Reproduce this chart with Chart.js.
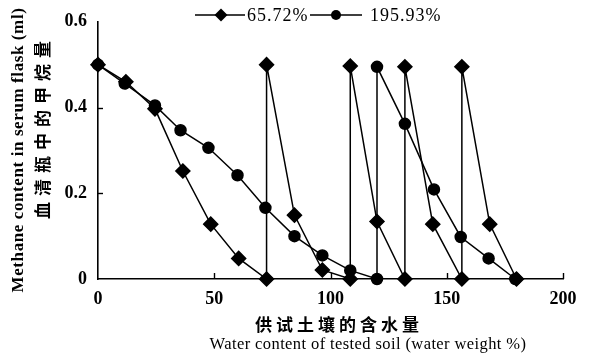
<!DOCTYPE html>
<html>
<head>
<meta charset="utf-8">
<script src="https://cdn.jsdelivr.net/npm/chart.js@4/dist/chart.umd.min.js"></script>
<style>
    html, body { margin: 0; padding: 0; background: #ffffff; }
    #wrap { width: 590px; height: 361px; position: relative; }
</style>
</head>
<body>
<div id="wrap"><canvas id="chart"></canvas></div>
<script>
    'use strict';

    // series 65.72% (diamonds)
    var lowX = [0, 12, 24.5, 36.5, 48.5, 60.5, 72.5, 72.5, 84.5, 96.5, 108.5, 108.5, 120, 132, 132, 144, 156.5, 156.5, 168.5, 180];
    var lowY = [0.5, 0.46, 0.397, 0.252, 0.128, 0.048, 0, 0.5, 0.149, 0.021, 0, 0.497, 0.134, 0, 0.495, 0.128, 0, 0.495, 0.128, 0];

    // series 195.93% (circles)
    var highX = [0, 11.5, 24.5, 35.5, 47.5, 60, 72, 84.5, 96.5, 108.5, 120, 120, 132, 144.5, 156, 168, 179.5];
    var highY = [0.5, 0.456, 0.405, 0.347, 0.306, 0.242, 0.166, 0.1, 0.055, 0.02, 0, 0.495, 0.362, 0.209, 0.098, 0.048, 0];

    var seriesNames = ['65.72%', '195.93%'];
    var xTicks = [0, 50, 100, 150, 200];
    var yTicks = [0, 0.2, 0.4, 0.6];

    var xTitleCn = '供试土壤的含水量';
    var xTitleEn = 'Water content of tested soil (water weight %)';
    var yTitleEn = 'Methane content in serum flask (ml)';
    var yTitleCn = '血清瓶中的甲烷量';

    var serif = "'Liberation Serif', 'Times New Roman', serif";
    var cjk = "'Noto Sans CJK SC', sans-serif";

    function toPoints(xs, ys) {
        return xs.map(function (x, i) {
            return { x: x, y: ys[i] };
        });
    }

    function spacedText(ctx, text, x, y, spacing) {
        ctx.letterSpacing = spacing + 'px';
        ctx.fillText(text, x, y);
        ctx.letterSpacing = '0px';
    }

    var decorations = {
        id: 'decorations',
        afterDraw: function (chart) {
            var ctx = chart.ctx;
            var xs = chart.scales.x;
            var ys = chart.scales.y;
            var area = chart.chartArea;

            ctx.save();
            ctx.strokeStyle = '#000';
            ctx.fillStyle = '#000';
            ctx.lineWidth = 1.4;

            // inward tick marks
            xTicks.forEach(function (v) {
                if (v === 0) { return; }
                var px = Math.round(xs.getPixelForValue(v)) + 0.5;
                ctx.beginPath();
                ctx.moveTo(px, area.bottom);
                ctx.lineTo(px, area.bottom - 6);
                ctx.stroke();
            });
            yTicks.forEach(function (v) {
                if (v === 0 || v === 0.6) { return; }
                var py = Math.round(ys.getPixelForValue(v)) + 0.5;
                ctx.beginPath();
                ctx.moveTo(area.left, py);
                ctx.lineTo(area.left + 5, py);
                ctx.stroke();
            });

            // legend
            var ly = 15;
            ctx.lineWidth = 1.5;
            ctx.beginPath();
            ctx.moveTo(195, ly);
            ctx.lineTo(245, ly);
            ctx.moveTo(310, ly);
            ctx.lineTo(362, ly);
            ctx.stroke();
            ctx.beginPath();
            ctx.moveTo(221, ly - 6.5);
            ctx.lineTo(227.5, ly);
            ctx.lineTo(221, ly + 6.5);
            ctx.lineTo(214.5, ly);
            ctx.closePath();
            ctx.fill();
            ctx.beginPath();
            ctx.arc(336, ly, 5, 0, Math.PI * 2);
            ctx.fill();

            ctx.font = '18px ' + serif;
            ctx.textBaseline = 'middle';
            ctx.textAlign = 'left';
            spacedText(ctx, seriesNames[0], 247, ly + 1, 1);
            spacedText(ctx, seriesNames[1], 370, ly + 1, 1);

            // x axis titles
            ctx.textAlign = 'center';
            ctx.font = '600 17px ' + cjk;
            spacedText(ctx, xTitleCn, 339, 325, 4);
            ctx.font = '16.5px ' + serif;
            spacedText(ctx, xTitleEn, 368, 345, 0.4);

            // y axis titles
            ctx.save();
            ctx.translate(19, 150);
            ctx.rotate(-Math.PI / 2);
            ctx.font = 'bold 17px ' + serif;
            spacedText(ctx, yTitleEn, 0, 0, 0.6);
            ctx.restore();

            ctx.save();
            ctx.translate(43, 130);
            ctx.rotate(-Math.PI / 2);
            ctx.font = '600 17px ' + cjk;
            spacedText(ctx, yTitleCn, 3, 0, 6);
            ctx.restore();

            ctx.restore();
        }
    };

    new Chart(document.getElementById('chart'), {
        type: 'scatter',
        data: {
            datasets: [{
                label: seriesNames[0],
                data: toPoints(lowX, lowY),
                showLine: true,
                borderColor: '#000',
                backgroundColor: '#000',
                borderWidth: 1.5,
                pointStyle: 'rectRot',
                pointRadius: 7,
                pointHoverRadius: 7,
                clip: false
            }, {
                label: seriesNames[1],
                data: toPoints(highX, highY),
                showLine: true,
                borderColor: '#000',
                backgroundColor: '#000',
                borderWidth: 1.5,
                pointStyle: 'circle',
                pointRadius: 5.5,
                pointHoverRadius: 5.5,
                clip: false
            }]
        },
        options: {
            responsive: true,
            maintainAspectRatio: false,
            animation: false,
            layout: { padding: { top: 13, right: 27, left: 0, bottom: 0 } },
            plugins: {
                legend: { display: false },
                tooltip: { enabled: false }
            },
            scales: {
                x: {
                    type: 'linear',
                    min: 0,
                    max: 200,
                    afterBuildTicks: function (scale) {
                        scale.ticks = xTicks.map(function (v) { return { value: v }; });
                    },
                    afterFit: function (scale) { scale.height = 82; },
                    grid: { display: false, drawTicks: false },
                    border: { display: true, color: '#000', width: 1.6 },
                    ticks: {
                        color: '#000',
                        padding: 10,
                        maxRotation: 0,
                        font: { family: serif, size: 18, weight: 'bold' }
                    }
                },
                y: {
                    type: 'linear',
                    min: 0,
                    max: 0.6,
                    afterBuildTicks: function (scale) {
                        scale.ticks = yTicks.map(function (v) { return { value: v }; });
                    },
                    afterFit: function (scale) { scale.width = 98; },
                    grid: { display: false, drawTicks: false },
                    border: { display: true, color: '#000', width: 1.6 },
                    ticks: {
                        color: '#000',
                        padding: 11,
                        font: { family: serif, size: 18, weight: 'bold' },
                        callback: function (v) {
                            return v === 0 ? '0' : v.toFixed(1);
                        }
                    }
                }
            }
        },
        plugins: [decorations]
    });
</script>
</body>
</html>
